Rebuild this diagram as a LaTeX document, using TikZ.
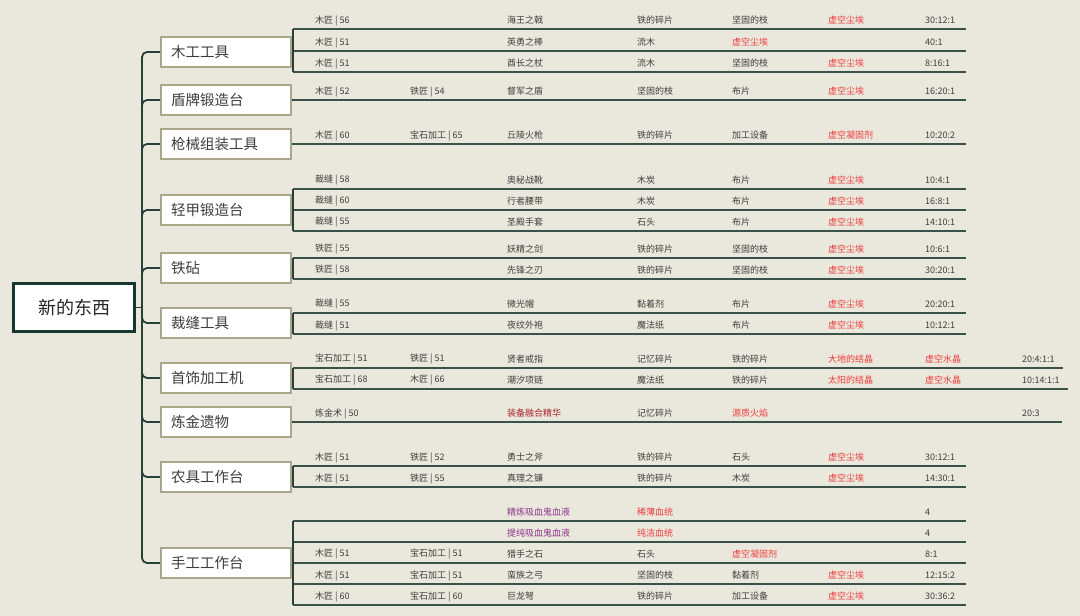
\documentclass[tikz,border=0pt]{standalone}
\usepackage{fontspec}
\setmainfont{Noto Sans CJK SC}
\definecolor{bg}{RGB}{234,231,220}
\definecolor{lineC}{RGB}{40,64,56}
\definecolor{ulC}{RGB}{58,82,74}
\definecolor{rootB}{RGB}{22,56,48}
\definecolor{brB}{RGB}{170,166,138}
\definecolor{ink}{RGB}{62,62,62}
\definecolor{vred}{RGB}{236,60,60}
\definecolor{dred}{RGB}{168,32,46}
\definecolor{purp}{RGB}{140,52,140}
\tikzset{
  rootbox/.style={draw=rootB, line width=3pt, fill=white, minimum width=121pt, minimum height=48pt, inner sep=0pt, font=\fontsize{18}{20}\selectfont, text=black!85},
  branch/.style={draw=brB, line width=2pt, fill=white, text width=110pt, inner xsep=10pt, inner ysep=0pt, minimum height=30pt, align=left, font=\fontsize{14.5}{16}\selectfont, text=ink},
  cell/.style={inner sep=0pt, anchor=west, font=\fontsize{9}{10}\selectfont, text=ink},
  k/.style={},
  r/.style={text=vred},
  d/.style={text=dred},
  p/.style={text=purp},
  conn/.style={draw=lineC, line width=1.8pt},
  uline/.style={draw=ulC, line width=2pt},
}
\newcommand\trow[4]{%
  \coordinate (#1-s) at (293,#2);
  \coordinate (#1-e) at (#3,#2);
  \draw[uline] (#1-s) -- (#1-e);
  \foreach \cx/\cs/\ct [count=\ci] in {#4} {\node[cell,\cs] (#1-\ci) at (\cx,#2-8.5) {\ct};}
}
\begin{document}
\begin{tikzpicture}[x=1pt,y=-1pt]
\useasboundingbox (0,0) rectangle (1080,616);
\fill[bg] (0,0) rectangle (1080,616);

% table rows
\trow{r1}{29}{966}{315/k/木匠 | 56,507/k/海王之戟,637/k/铁的碎片,732/k/坚固的枝,828/r/虚空尘埃,925/k/30:12:1}
\trow{r2}{51}{966}{315/k/木匠 | 51,507/k/英勇之棒,637/k/流木,732/r/虚空尘埃,925/k/40:1}
\trow{r3}{72}{966}{315/k/木匠 | 51,507/k/酋长之杖,637/k/流木,732/k/坚固的枝,828/r/虚空尘埃,925/k/8:16:1}
\trow{r4}{100}{966}{315/k/木匠 | 52,410/k/铁匠 | 54,507/k/督军之盾,637/k/坚固的枝,732/k/布片,828/r/虚空尘埃,925/k/16:20:1}
\trow{r5}{144}{966}{315/k/木匠 | 60,410/k/宝石加工 | 65,507/k/丘陵火枪,637/k/铁的碎片,732/k/加工设备,828/r/虚空凝固剂,925/k/10:20:2}
\trow{r6}{188.5}{966}{315/k/裁缝 | 58,507/k/奥秘战靴,637/k/木炭,732/k/布片,828/r/虚空尘埃,925/k/10:4:1}
\trow{r7}{209.5}{966}{315/k/裁缝 | 60,507/k/行者腰带,637/k/木炭,732/k/布片,828/r/虚空尘埃,925/k/16:8:1}
\trow{r8}{230.5}{966}{315/k/裁缝 | 55,507/k/圣殿手套,637/k/石头,732/k/布片,828/r/虚空尘埃,925/k/14:10:1}
\trow{r9}{257.5}{966}{315/k/铁匠 | 55,507/k/妖精之剑,637/k/铁的碎片,732/k/坚固的枝,828/r/虚空尘埃,925/k/10:6:1}
\trow{r10}{278.5}{966}{315/k/铁匠 | 58,507/k/先锋之刃,637/k/铁的碎片,732/k/坚固的枝,828/r/虚空尘埃,925/k/30:20:1}
\trow{r11}{312.5}{966}{315/k/裁缝 | 55,507/k/微光帽,637/k/黏着剂,732/k/布片,828/r/虚空尘埃,925/k/20:20:1}
\trow{r12}{334}{966}{315/k/裁缝 | 51,507/k/夜纹外袍,637/k/魔法纸,732/k/布片,828/r/虚空尘埃,925/k/10:12:1}
\trow{r13}{367.5}{1063}{315/k/宝石加工 | 51,410/k/铁匠 | 51,507/k/贤者戒指,637/k/记忆碎片,732/k/铁的碎片,828/r/大地的结晶,925/r/虚空水晶,1022/k/20:4:1:1}
\trow{r14}{388.5}{1068}{315/k/宝石加工 | 68,410/k/木匠 | 66,507/k/潮汐项链,637/k/魔法纸,732/k/铁的碎片,828/r/太阳的结晶,925/r/虚空水晶,1022/k/10:14:1:1}
\trow{r15}{422}{1062}{315/k/炼金术 | 50,507/d/装备融合精华,637/k/记忆碎片,732/r/源质火焰,1022/k/20:3}
\trow{r16}{466}{966}{315/k/木匠 | 51,410/k/铁匠 | 52,507/k/勇士之斧,637/k/铁的碎片,732/k/石头,828/r/虚空尘埃,925/k/30:12:1}
\trow{r17}{487}{966}{315/k/木匠 | 51,410/k/铁匠 | 55,507/k/真理之镰,637/k/铁的碎片,732/k/木炭,828/r/虚空尘埃,925/k/14:30:1}
\trow{r18}{520.5}{966}{507/p/精炼吸血鬼血液,637/r/稀薄血统,925/k/4}
\trow{r19}{541.5}{966}{507/p/提纯吸血鬼血液,637/r/纯洁血统,925/k/4}
\trow{r20}{562.5}{966}{315/k/木匠 | 51,410/k/宝石加工 | 51,507/k/猎手之石,637/k/石头,732/r/虚空凝固剂,925/k/8:1}
\trow{r21}{584}{966}{315/k/木匠 | 51,410/k/宝石加工 | 51,507/k/蛮族之弓,637/k/坚固的枝,732/k/黏着剂,828/r/虚空尘埃,925/k/12:15:2}
\trow{r22}{605}{966}{315/k/木匠 | 60,410/k/宝石加工 | 60,507/k/巨龙弩,637/k/铁的碎片,732/k/加工设备,828/r/虚空尘埃,925/k/30:36:2}

% brackets
\draw[conn] (r1-s) -- (r3-s);
\draw[conn] (r6-s) -- (r8-s);
\draw[conn] (r9-s) -- (r10-s);
\draw[conn] (r11-s) -- (r12-s);
\draw[conn] (r13-s) -- (r14-s);
\draw[conn] (r16-s) -- (r17-s);
\draw[conn] (r18-s) -- (r22-s);

% root and branches
\node[rootbox] (root) at (74,307.5) {新的东西};
\node[branch] (b1) at (226,52) {木工工具};
\node[branch] (b2) at (226,100) {盾牌锻造台};
\node[branch] (b3) at (226,144) {枪械组装工具};
\node[branch] (b4) at (226,210) {轻甲锻造台};
\node[branch] (b5) at (226,268) {铁砧};
\node[branch] (b6) at (226,323) {裁缝工具};
\node[branch] (b7) at (226,378) {首饰加工机};
\node[branch] (b8) at (226,422) {炼金遗物};
\node[branch] (b9) at (226,477) {农具工作台};
\node[branch] (b10) at (226,563) {手工工作台};

\coordinate (tr) at (142,307.5);
\draw[conn] (root.east) -- (tr);
\foreach \b in {b1,b2,b3,b4,b5,b6,b7,b8,b9,b10}
  \draw[conn, rounded corners=5pt] (tr) |- (\b.west);

% branch to groups
\draw[conn] (b1.east) -- (b1.east -| r1-s);
\draw[conn] (b2.east) -- (r4-s);
\draw[conn] (b3.east) -- (r5-s);
\draw[conn] (b4.east) -- (b4.east -| r6-s);
\draw[conn] (b5.east) -- (b5.east -| r9-s);
\draw[conn] (b6.east) -- (b6.east -| r11-s);
\draw[conn] (b7.east) -- (b7.east -| r13-s);
\draw[conn] (b8.east) -- (r15-s);
\draw[conn] (b9.east) -- (b9.east -| r16-s);
\draw[conn] (b10.east) -- (b10.east -| r18-s);
\end{tikzpicture}
\end{document}
